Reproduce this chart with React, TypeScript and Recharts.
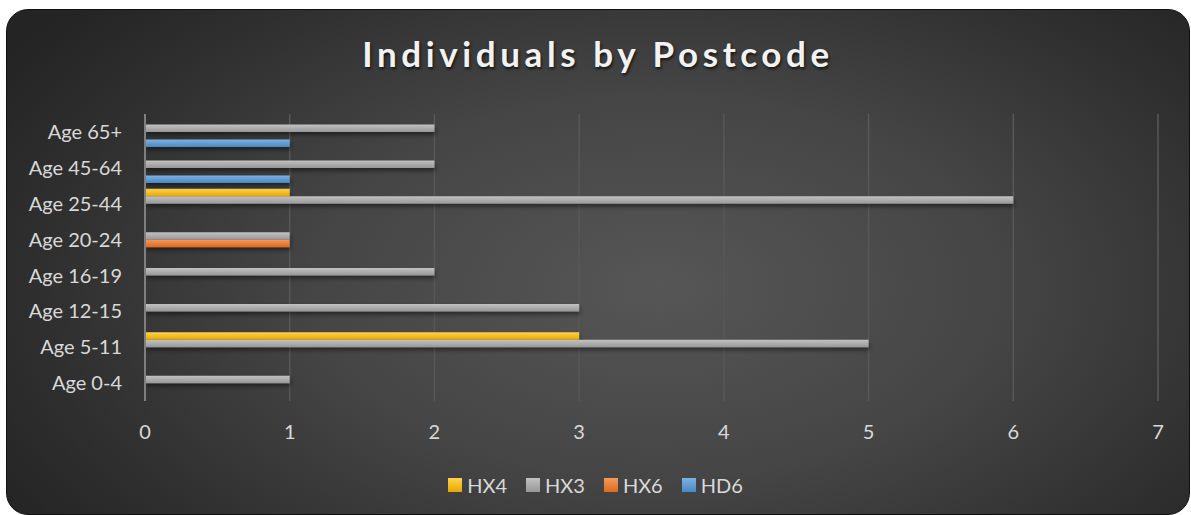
import React from "react";
import {
  BarChart,
  Bar,
  XAxis,
  YAxis,
  CartesianGrid,
  Legend,
} from "recharts";

const categories = [
  "Age 0-4",
  "Age 5-11",
  "Age 12-15",
  "Age 16-19",
  "Age 20-24",
  "Age 25-44",
  "Age 45-64",
  "Age 65+",
];
const hx4 = [0, 3, 0, 0, 0, 1, 0, 0];
const hx3 = [1, 5, 3, 2, 1, 6, 2, 2];
const hx6 = [0, 0, 0, 0, 1, 0, 0, 0];
const hd6 = [0, 0, 0, 0, 0, 0, 1, 1];
const xTicks = [0, 1, 2, 3, 4, 5, 6, 7];

const seriesDefs = [
  { key: "HX4", values: hx4, color: "#FFC000", light: "#FFD24D", dark: "#E5A800" },
  { key: "HX3", values: hx3, color: "#A5A5A5", light: "#C2C2C2", dark: "#979797" },
  { key: "HX6", values: hx6, color: "#ED7D31", light: "#F29A5E", dark: "#DC6A1E" },
  { key: "HD6", values: hd6, color: "#5B9BD5", light: "#7DB2E2", dark: "#4A88C2" },
];

const data = categories.map((c, i) => {
  const row: Record<string, string | number> = { age: c };
  seriesDefs.forEach((s) => {
    row[s.key] = s.values[i];
  });
  return row;
});

const FONT = "Lato, 'Open Sans', sans-serif";

const orderOf = (k: string) => seriesDefs.findIndex((s) => s.key === k);

const renderLegend = (props: any) => {
  const payload = [...(props.payload || [])].sort(
    (a: any, b: any) => orderOf(a.value) - orderOf(b.value)
  );
  return (
    <div
      style={{
        display: "flex",
        justifyContent: "center",
        alignItems: "center",
        fontFamily: FONT,
        fontSize: 20,
        color: "#d9d9d9",
      }}
    >
      {payload.map((p: any, i: number) => {
        const def = seriesDefs.find((s) => s.key === p.value);
        return (
          <div
            key={i}
            style={{
              display: "flex",
              alignItems: "center",
              marginRight: i < payload.length - 1 ? 19 : 0,
            }}
          >
            <span
              style={{
                display: "inline-block",
                width: 14,
                height: 14,
                background: def
                  ? `linear-gradient(${def.light}, ${def.dark})`
                  : p.color,
                marginRight: 5,
              }}
            />
            <span>{p.value}</span>
          </div>
        );
      })}
    </div>
  );
};

export default function App() {
  return (
    <div
      style={{
        position: "absolute",
        left: 0,
        top: 0,
        width: 1191,
        height: 515,
        overflow: "hidden",
        background: "#ffffff",
      }}
    >
      <div
        style={{
          position: "absolute",
          left: 6,
          top: 9,
          width: 1182,
          height: 504,
          borderRadius: 22,
          border: "1px solid #111",
          background:
            "radial-gradient(ellipse 65% 85% at 55% 55%, #565656 0%, #454545 45%, #2f2f2f 80%, #242424 100%)",
        }}
      />
      <div
        style={{
          position: "absolute",
          left: 0,
          top: 33,
          width: 1196,
          textAlign: "center",
          fontFamily: FONT,
          fontWeight: 700,
          fontSize: 35,
          letterSpacing: 4.6,
          color: "#f2f2f2",
          textShadow: "1px 2px 3px rgba(0,0,0,0.7)",
          lineHeight: "40px",
        }}
      >
        Individuals by Postcode
      </div>
      <div style={{ position: "absolute", left: 0, top: 0 }}>
        <BarChart
          width={1191}
          height={515}
          data={data}
          layout="vertical"
          margin={{ top: 114, right: 33, bottom: 74, left: 0 }}
          barGap={0}
          style={{ fontFamily: FONT }}
        >
          <defs>
            {seriesDefs.map((s) => (
              <linearGradient
                key={s.key}
                id={`grad-${s.key}`}
                x1="0"
                y1="0"
                x2="0"
                y2="1"
              >
                <stop offset="0%" stopColor={s.light} />
                <stop offset="100%" stopColor={s.dark} />
              </linearGradient>
            ))}
            <filter id="barShadow" x="-5%" y="-50%" width="110%" height="250%">
              <feDropShadow
                dx="1"
                dy="3"
                stdDeviation="2"
                floodColor="#000"
                floodOpacity="0.45"
              />
            </filter>
          </defs>
          <CartesianGrid
            horizontal={false}
            vertical={true}
            stroke="#585858"
            strokeWidth={1.5}
          />
          <XAxis
            type="number"
            domain={[0, 7]}
            ticks={xTicks}
            interval={0}
            axisLine={false}
            tickLine={false}
            tickMargin={18}
            height={40}
            tick={{ fill: "#d9d9d9", fontSize: 20, fontFamily: FONT }}
          />
          <YAxis
            type="category"
            dataKey="age"
            reversed
            width={145}
            axisLine={{ stroke: "#7f7f7f", strokeWidth: 2 }}
            tickLine={false}
            tickMargin={17}
            interval={0}
            tick={{ fill: "#d9d9d9", fontSize: 20, fontFamily: FONT }}
          />
          <Legend
            verticalAlign="middle"
            align="center"
            layout="horizontal"
            content={renderLegend}
            wrapperStyle={{
              position: "absolute",
              top: 473,
              left: 0,
              width: 1191,
            }}
          />
          {seriesDefs.map((s) => (
            <Bar
              key={s.key}
              dataKey={s.key}
              name={s.key}
              fill={`url(#grad-${s.key})`}
              barSize={7.5}
              isAnimationActive={false}
              filter="url(#barShadow)"
              legendType="square"
            />
          ))}
        </BarChart>
      </div>
    </div>
  );
}
